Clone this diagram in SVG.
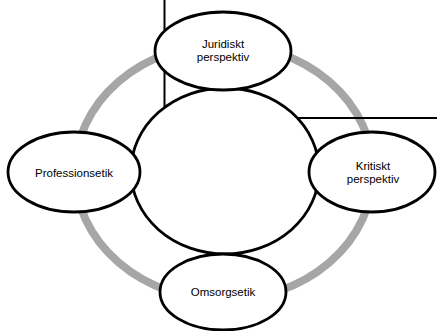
<svg xmlns="http://www.w3.org/2000/svg" width="437" height="331" viewBox="0 0 437 331">
<style>
.node{fill:#ffffff;stroke:#000000;stroke-width:2.8}
.lbl{font-family:"Liberation Sans",Arial,sans-serif;font-size:11.5px;fill:#000000;text-anchor:middle}
.ring{fill:none;stroke:#a6a6a6;stroke-width:8}
.frame{fill:none;stroke:#000000;stroke-width:2}
</style>
<rect width="437" height="331" fill="#ffffff"/>
<g id="connectors">
<ellipse class="ring" cx="224" cy="172" rx="149" ry="128"/>
<polyline class="frame" points="164.5,0 164.5,118 437,118"/>
</g>
<g id="center">
<ellipse class="node" cx="225" cy="171" rx="94" ry="83"/>
</g>
<g id="juridiskt">
<ellipse class="node" cx="223" cy="51" rx="68" ry="39"/>
<text class="lbl" x="223" y="48">Juridiskt</text>
<text class="lbl" x="223" y="61">perspektiv</text>
</g>
<g id="kritiskt">
<ellipse class="node" cx="372" cy="172" rx="63" ry="40"/>
<text class="lbl" x="373" y="170">Kritiskt</text>
<text class="lbl" x="373" y="183">perspektiv</text>
</g>
<g id="professionsetik">
<ellipse class="node" cx="74" cy="172" rx="66" ry="40"/>
<text class="lbl" x="74" y="177">Professionsetik</text>
</g>
<g id="omsorgsetik">
<ellipse class="node" cx="223" cy="292" rx="63" ry="38"/>
<text class="lbl" x="223" y="296">Omsorgsetik</text>
</g>
</svg>
